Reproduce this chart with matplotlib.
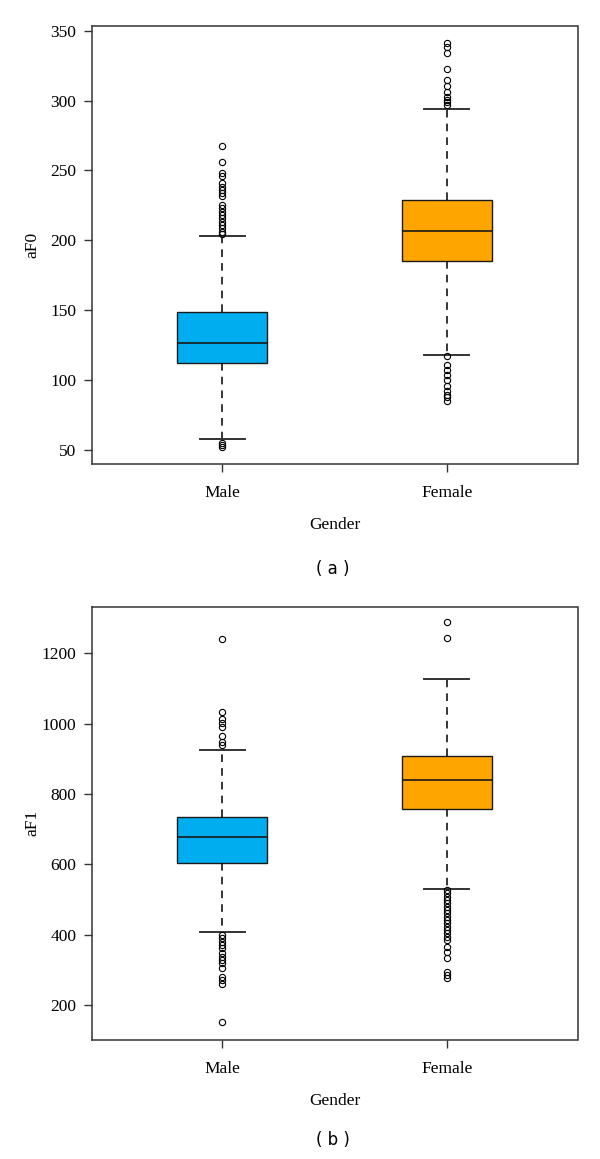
import matplotlib
matplotlib.use('Agg')
from matplotlib import pyplot as plt

# values
genders = ['Male', 'Female']
colors = ['#00AEEF', '#FFA500']

# panel (a): aF0
f0_med = [126.3, 206.4]
f0_q1 = [112.5, 185.2]
f0_q3 = [148.9, 228.8]
f0_wlo = [58.1, 118.0]
f0_whi = [203.1, 294.1]
f0_out_male = [267.5, 256.2, 248.4, 246.0, 240.8, 238.4, 236.0, 233.7, 231.7,
               225.3, 222.9, 220.5, 218.2, 215.8, 213.4, 211.0, 208.7, 206.3,
               204.7, 55.2, 53.5, 52.0]
f0_out_female = [341.3, 338.0, 334.2, 322.5, 314.7, 310.4, 306.3, 302.7, 300.4,
                 299.1, 296.8, 117.2, 110.8, 107.2, 103.6, 100.1, 95.8, 92.4,
                 89.3, 88.1, 85.3]

# panel (b): aF1
f1_med = [678.6, 839.7]
f1_q1 = [604.6, 756.4]
f1_q3 = [735.4, 908.9]
f1_wlo = [406.7, 529.0]
f1_whi = [925.0, 1127.0]
f1_out_male = [1240.6, 1034.0, 1012.3, 1002.8, 991.4, 964.9, 948.7, 939.3,
               399.0, 389.6, 380.0, 370.6, 361.2, 347.0, 337.3, 328.0, 318.6,
               304.4, 280.5, 271.0, 259.7, 152.5]
f1_out_female = [1288.0, 1244.4, 527.0, 517.6, 508.0, 498.5, 489.0, 479.5,
                 470.0, 460.7, 451.0, 441.7, 432.3, 422.6, 413.3, 403.9, 394.2,
                 384.8, 365.8, 351.5, 332.8, 294.7, 285.3, 275.9]

plt.rcParams['font.family'] = ['Liberation Serif', 'DejaVu Serif']


def stats(med, q1, q3, wlo, whi, outs):
    res = []
    for i in range(len(med)):
        res.append({'med': med[i], 'q1': q1[i], 'q3': q3[i],
                    'whislo': wlo[i], 'whishi': whi[i], 'fliers': outs[i]})
    return res


def draw(ax, st, ylabel, yticks, ylim):
    bp = ax.bxp(st, positions=[1, 2], widths=0.4, patch_artist=True,
                boxprops=dict(edgecolor='#1a1a1a', linewidth=1.0),
                medianprops=dict(color='#1a1a1a', linewidth=1.2),
                whiskerprops=dict(color='black', linestyle=(0, (5, 4)), linewidth=1.1),
                capprops=dict(color='#333333', linewidth=1.4),
                capwidths=0.2,
                flierprops=dict(marker='o', markersize=4.5, markerfacecolor='none',
                                markeredgecolor='black', markeredgewidth=0.8))
    for patch, c in zip(bp['boxes'], colors):
        patch.set_facecolor(c)
    ax.set_xlim(0.42, 2.58)
    ax.set_ylim(*ylim)
    ax.set_xticks([1, 2])
    ax.set_xticklabels(genders, fontsize=12.5)
    ax.set_yticks(yticks)
    ax.tick_params(axis='both', labelsize=12.5, length=6, width=1.0,
                   color='#333333', pad=5)
    ax.tick_params(axis='x', pad=9)
    ax.set_xlabel('Gender', fontsize=12.5, labelpad=12)
    ax.set_ylabel(ylabel, fontsize=12.5)
    ax.yaxis.set_label_coords(-0.105, 0.5)
    for s in ax.spines.values():
        s.set_color('#333333')
        s.set_linewidth(1.1)


fig = plt.figure(figsize=(6, 11.59), dpi=100)
ax1 = fig.add_axes([0.1525, 0.5997, 0.81, 0.3779])
ax2 = fig.add_axes([0.1525, 0.1027, 0.81, 0.3739])

draw(ax1, stats(f0_med, f0_q1, f0_q3, f0_wlo, f0_whi, [f0_out_male, f0_out_female]),
     'aF0', [50, 100, 150, 200, 250, 300, 350], (40.0, 353.4))
draw(ax2, stats(f1_med, f1_q1, f1_q3, f1_wlo, f1_whi, [f1_out_male, f1_out_female]),
     'aF1', [200, 400, 600, 800, 1000, 1200], (100.5, 1332.5))

fig.text(0.555, 1 - 569 / 1159, '( a )', ha='center', va='center', fontsize=12,
         family=['DejaVu Sans'])
fig.text(0.555, 1 - 1140 / 1159, '( b )', ha='center', va='center', fontsize=12,
         family=['DejaVu Sans'])

fig.savefig('out.png', dpi=100)
